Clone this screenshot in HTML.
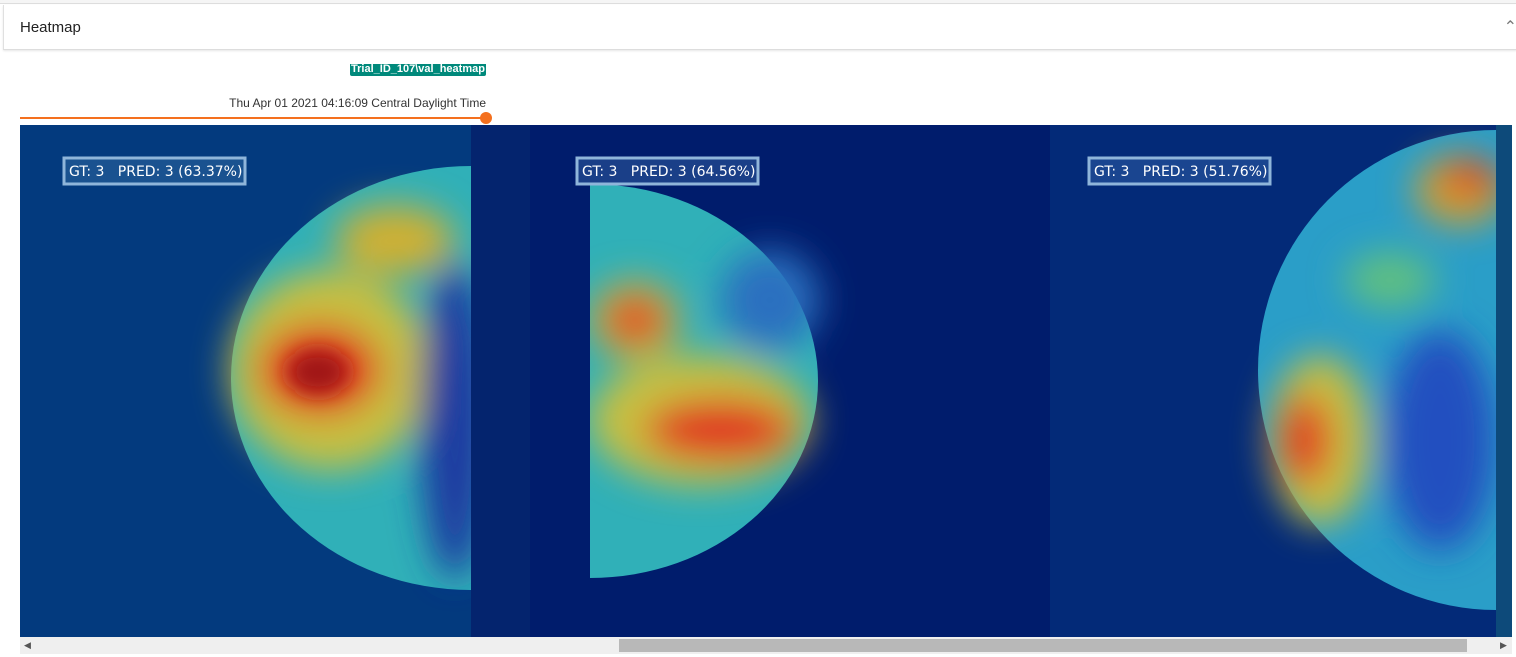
<!DOCTYPE html>
<html><head><meta charset="utf-8"><style>
body{margin:0;width:1516px;height:657px;background:#fff;font-family:"Liberation Sans",sans-serif;overflow:hidden;position:relative}
.topbar{position:absolute;left:0;top:0;width:1516px;height:3px;border-bottom:1px solid #ddd;background:#f5f5f5}
.header{position:absolute;left:3px;top:5px;width:1513px;height:44px;border-bottom:1px solid #ddd;border-left:1px solid #e0e0e0;box-shadow:0 1px 2px rgba(0,0,0,.1)}
.title{position:absolute;left:16px;top:14px;font-size:15px;color:#222}
.chev{position:absolute;right:0;top:12px;font-size:16px;color:#777}
.tag{position:absolute;left:350px;top:64px;width:136px;height:12px;background:#00897b;color:#fff;font-size:11px;font-weight:bold;line-height:10px;text-align:center;overflow:hidden;border-radius:0 0 2px 2px}
.time{position:absolute;left:200px;top:96px;width:286px;text-align:right;font-size:12px;color:#333}
.slider{position:absolute;left:20px;top:117px;width:466px;height:2px;background:#f4701e}
.knob{position:absolute;left:480px;top:112px;width:12px;height:12px;border-radius:50%;background:#f4701e}
.scroll{position:absolute;left:20px;top:637px;width:1492px;height:17px;background:#efefef}
.thumb{position:absolute;left:619px;top:639px;width:848px;height:13px;background:#b8b8b8}
</style></head><body>
<div class="topbar"></div>
<div class="header"><span class="title">Heatmap</span><span class="chev">&#x2303;</span></div>
<div class="tag">Trial_ID_107\val_heatmap</div>
<div class="time">Thu Apr 01 2021 04:16:09 Central Daylight Time</div>
<div class="slider"></div>
<div class="knob"></div>
<svg style="position:absolute;left:0;top:0" width="1516" height="637">
<defs>
<filter id="b" x="-50%" y="-50%" width="200%" height="200%"><feGaussianBlur stdDeviation="18"/></filter>
<filter id="b2" x="-50%" y="-50%" width="200%" height="200%"><feGaussianBlur stdDeviation="10"/></filter>
<clipPath id="c1"><rect x="20" y="125" width="451" height="512"/></clipPath>
<clipPath id="c2"><rect x="590" y="125" width="455" height="512"/></clipPath>
<clipPath id="c3"><rect x="1045" y="125" width="451" height="512"/></clipPath>
<clipPath id="all"><rect x="20" y="125" width="1492" height="512"/></clipPath>
</defs>
<g clip-path="url(#all)">
<rect x="20" y="125" width="510" height="512" fill="#033a7e"/>
<rect x="530" y="125" width="520" height="512" fill="#001c6c"/>
<rect x="1050" y="125" width="462" height="512" fill="#032a78"/>
<rect x="471" y="125" width="59" height="512" fill="#04246e"/>
<rect x="1496" y="125" width="16" height="512" fill="#0d4a7a"/>
<g clip-path="url(#c1)">
<ellipse cx="471" cy="378" rx="240" ry="212" fill="#30b0b8"/>
<g filter="url(#b)">
<ellipse cx="330" cy="370" rx="100" ry="100" fill="#c8c040"/>
<ellipse cx="395" cy="240" rx="60" ry="35" fill="#d0b030"/>
<ellipse cx="455" cy="420" rx="35" ry="160" fill="#1a3aa0"/>
<ellipse cx="320" cy="370" rx="60" ry="45" fill="#e03020"/>
</g>
<ellipse cx="318" cy="372" rx="30" ry="22" fill="#a01818" filter="url(#b2)"/>
</g>
<g clip-path="url(#c2)">
<ellipse cx="590" cy="381" rx="228" ry="197" fill="#30b0b8"/>
<g filter="url(#b)">
<ellipse cx="700" cy="420" rx="110" ry="65" fill="#c8c040"/>
<ellipse cx="635" cy="320" rx="45" ry="40" fill="#c8b040"/>
<ellipse cx="720" cy="430" rx="75" ry="30" fill="#e03020"/>
<ellipse cx="635" cy="320" rx="28" ry="22" fill="#e03020"/>
<ellipse cx="770" cy="300" rx="50" ry="50" fill="#2a70c0"/>
</g>
</g>
<g clip-path="url(#c3)">
<ellipse cx="1496" cy="370" rx="238" ry="240" fill="#2a9ec8"/>
<g filter="url(#b)">
<ellipse cx="1320" cy="440" rx="50" ry="85" fill="#c8c040"/>
<ellipse cx="1460" cy="190" rx="45" ry="35" fill="#d0a030"/>
<ellipse cx="1390" cy="280" rx="45" ry="28" fill="#60c080"/>
<ellipse cx="1305" cy="440" rx="25" ry="45" fill="#e03020"/>
<ellipse cx="1470" cy="178" rx="28" ry="16" fill="#e03020"/>
<ellipse cx="1440" cy="440" rx="55" ry="110" fill="#2050c0"/>
</g>
</g>
</g>
<g font-family="DejaVu Sans,sans-serif" font-size="14" fill="#fff">
<rect x="64" y="158" width="181" height="26" fill="#1a5290" stroke="#8fb5da" stroke-width="3"/>
<text x="69" y="176" xml:space="preserve">GT: 3   PRED: 3 (63.37%)</text>
<rect x="577" y="158" width="181" height="26" fill="#1a3f88" stroke="#8fb5da" stroke-width="3"/>
<text x="582" y="176" xml:space="preserve">GT: 3   PRED: 3 (64.56%)</text>
<rect x="1089" y="158" width="181" height="26" fill="#1a4590" stroke="#8fb5da" stroke-width="3"/>
<text x="1094" y="176" xml:space="preserve">GT: 3   PRED: 3 (51.76%)</text>
</g>
</svg>
<div class="scroll"></div>
<div class="thumb"></div>
<div style="position:absolute;left:24px;top:640px;font-size:9px;color:#555">&#9664;</div>
<div style="position:absolute;left:1500px;top:640px;font-size:9px;color:#555">&#9654;</div>
</body></html>
